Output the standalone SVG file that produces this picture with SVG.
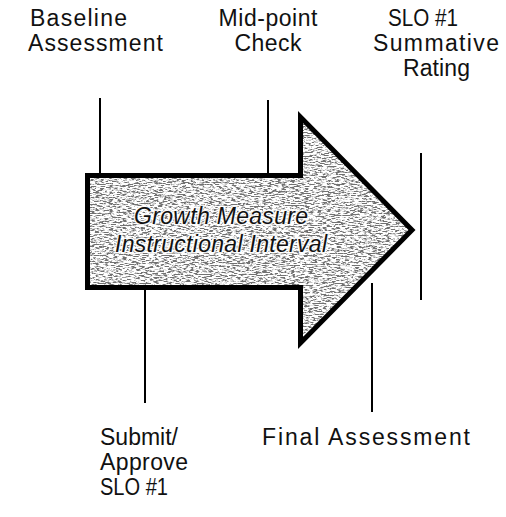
<svg xmlns="http://www.w3.org/2000/svg" width="506" height="517" viewBox="0 0 506 517">
<style>
.lbl{font-family:"Liberation Sans",Arial,sans-serif;font-size:23px;fill:#111}
.mid{text-anchor:middle}
.inner{font-family:"Liberation Sans",Arial,sans-serif;font-size:23px;font-style:italic;fill:#111;text-anchor:middle;stroke:#fff;stroke-width:3;stroke-opacity:0.85;paint-order:stroke}
.ln{stroke:#000;stroke-width:2;fill:none}
</style>
<defs>
<clipPath id="arrowClip"><polygon points="87,175 300,175 300,117 412,230 300,343 300,288 87,288"/></clipPath>
<filter id="grain" x="0" y="0" width="100%" height="100%" filterUnits="objectBoundingBox" color-interpolation-filters="sRGB">
<feTurbulence type="fractalNoise" baseFrequency="0.22 0.9" numOctaves="3" seed="7" result="n"/>
<feColorMatrix in="n" type="matrix" values="3.5 0 0 0 -1.2 3.5 0 0 0 -1.2 3.5 0 0 0 -1.2 0 0 0 0 1" result="g"/>
<feComponentTransfer in="g">
<feFuncR type="discrete" tableValues="0.45 0.62 0.78 0.9 1 1"/>
<feFuncG type="discrete" tableValues="0.45 0.62 0.78 0.9 1 1"/>
<feFuncB type="discrete" tableValues="0.45 0.62 0.78 0.9 1 1"/>
</feComponentTransfer>
</filter>
</defs>
<rect width="506" height="517" fill="#fff"/>
<g id="connectors">
<line class="ln" x1="100" y1="98" x2="100" y2="175"/>
<line class="ln" x1="268" y1="100" x2="268" y2="175"/>
<line class="ln" x1="421" y1="153" x2="421" y2="300"/>
<line class="ln" x1="145" y1="288" x2="145" y2="403"/>
<line class="ln" x1="372" y1="283" x2="372" y2="412"/>
</g>
<g id="arrow">
<g clip-path="url(#arrowClip)"><rect x="85" y="112" width="332" height="238" fill="#aaa" filter="url(#grain)"/></g>
<polygon points="87.5,175.5 300.5,175.5 300.5,117 412,230 300.5,343 300.5,287.5 87.5,287.5" fill="none" stroke="#000" stroke-width="5" stroke-linejoin="miter"/>
<text class="inner" x="221" y="224" textLength="174">Growth Measure</text>
<text class="inner" x="221" y="252" textLength="212">Instructional Interval</text>
</g>
<g id="baseline">
<text class="lbl" x="30" y="26" textLength="97">Baseline</text>
<text class="lbl" x="28" y="51" textLength="135">Assessment</text>
</g>
<g id="midpoint">
<text class="lbl mid" x="268" y="26" textLength="99">Mid-point</text>
<text class="lbl mid" x="268" y="51" textLength="67">Check</text>
</g>
<g id="summative">
<text class="lbl" x="388" y="26" textLength="70" lengthAdjust="spacingAndGlyphs">SLO #1</text>
<text class="lbl" x="373" y="51" textLength="126">Summative</text>
<text class="lbl" x="403" y="76" textLength="67">Rating</text>
</g>
<g id="submit">
<text class="lbl" x="100" y="445" textLength="78">Submit/</text>
<text class="lbl" x="100" y="470" textLength="88">Approve</text>
<text class="lbl" x="100" y="495" textLength="68" lengthAdjust="spacingAndGlyphs">SLO #1</text>
</g>
<g id="final">
<text class="lbl" x="262" y="445" textLength="208">Final Assessment</text>
</g>
</svg>
